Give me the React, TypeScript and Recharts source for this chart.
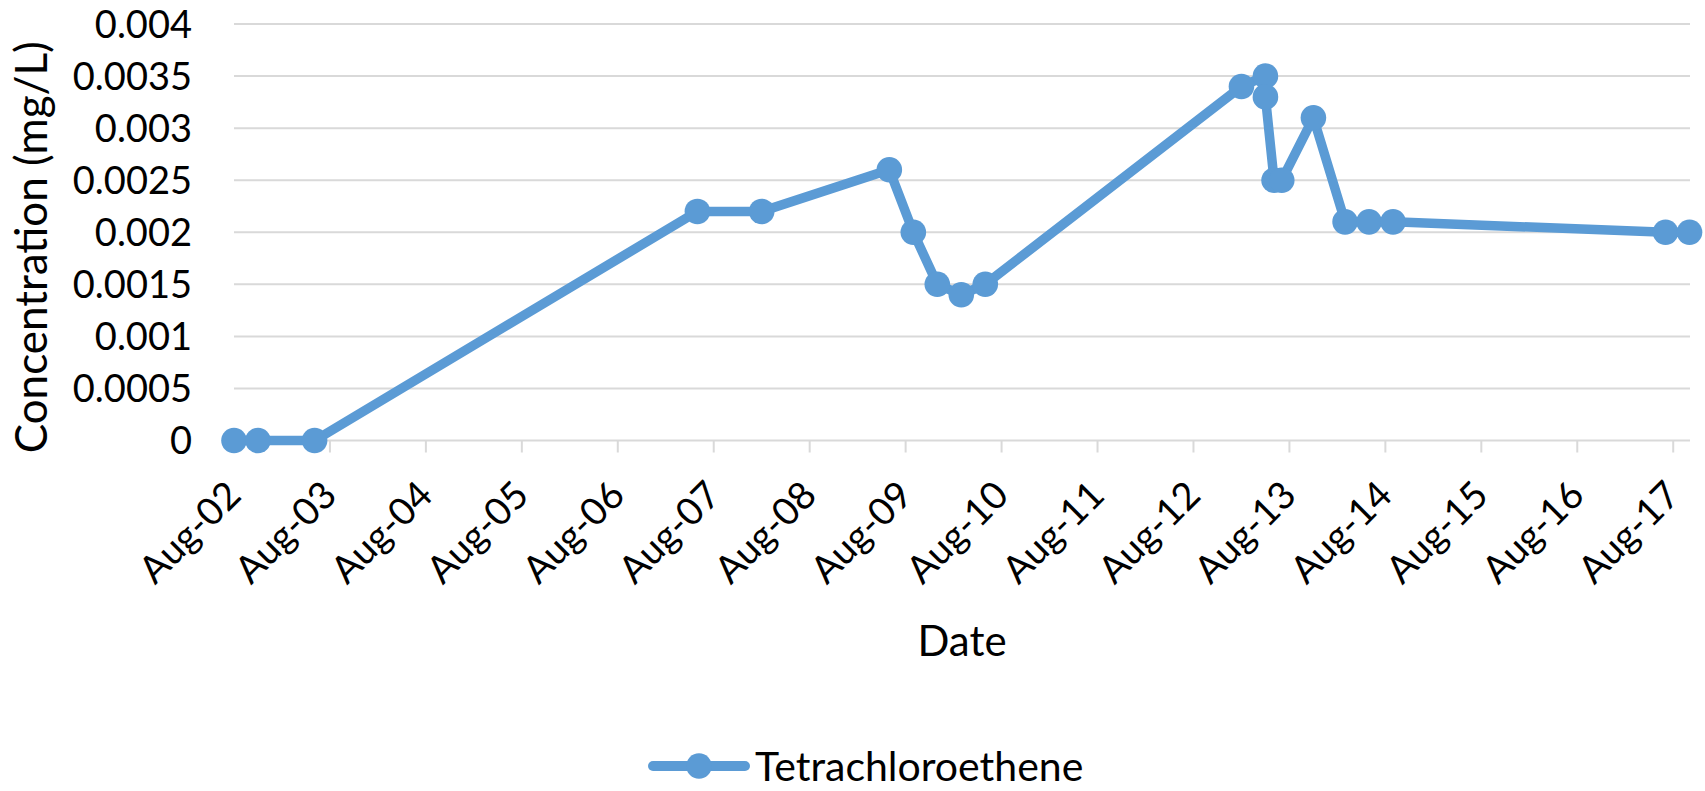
import React from 'react';
import { LineChart, Line, XAxis, YAxis, CartesianGrid, Legend, Label } from 'recharts';

// Sample dates expressed as day-of-August (fractional days)
const sampleDays = [2.0, 2.25, 2.84, 6.83, 7.5, 8.83, 9.08, 9.33, 9.58, 9.83, 12.5, 12.75, 12.75, 12.84, 12.92, 13.25, 13.58, 13.83, 14.08, 16.92, 17.17];
const tetrachloroethene = [0, 0, 0, 0.0022, 0.0022, 0.0026, 0.002, 0.0015, 0.0014, 0.0015, 0.0034, 0.0035, 0.0033, 0.0025, 0.0025, 0.0031, 0.0021, 0.0021, 0.0021, 0.002, 0.002];

const xTicks = [2, 3, 4, 5, 6, 7, 8, 9, 10, 11, 12, 13, 14, 15, 16, 17];
const xTickLabels = ['Aug-02', 'Aug-03', 'Aug-04', 'Aug-05', 'Aug-06', 'Aug-07', 'Aug-08', 'Aug-09', 'Aug-10', 'Aug-11', 'Aug-12', 'Aug-13', 'Aug-14', 'Aug-15', 'Aug-16', 'Aug-17'];
const yTicks = [0, 0.0005, 0.001, 0.0015, 0.002, 0.0025, 0.003, 0.0035, 0.004];
const yTickLabels = ['0', '0.0005', '0.001', '0.0015', '0.002', '0.0025', '0.003', '0.0035', '0.004'];

const data = sampleDays.map((d, i) => ({ day: d, value: tetrachloroethene[i] }));

const FONT = 'Lato, "Open Sans", sans-serif';
const BLUE = '#5B9BD5';
const GRID = '#D9D9D9';
const TICK_SIZE = 12;

const XTick = (props: any) => {
  const { x, y, payload } = props;
  const idx = xTicks.indexOf(payload.value);
  const label = idx >= 0 ? xTickLabels[idx] : '';
  const ax = x + 9;
  const ay = y + 45;
  return (
    <g>
      {idx > 0 && (
        <line x1={x} y1={y - TICK_SIZE} x2={x} y2={y} stroke={GRID} strokeWidth={2} />
      )}
      <text x={ax} y={ay} textAnchor="end" transform={`rotate(-45 ${ax} ${ay})`} fontSize={38} fontFamily={FONT} fill="#000">
        {label}
      </text>
    </g>
  );
};

const YTitle = (props: any) => {
  const vb = props.viewBox || { x: 0, y: 0, width: 0, height: 0 };
  const cx = 47;
  const cy = vb.y + vb.height / 2 + 15;
  return (
    <text x={cx} y={cy} textAnchor="middle" transform={`rotate(-90 ${cx} ${cy})`} fontSize={44} fontFamily={FONT} fill="#000">
      Concentration (mg/L)
    </text>
  );
};

const XTitle = (props: any) => {
  const vb = props.viewBox || { x: 0, y: 0, width: 0, height: 0 };
  const cx = vb.x + vb.width / 2;
  return (
    <text x={cx} y={655.5} textAnchor="middle" fontSize={42} fontFamily={FONT} fill="#000">
      Date
    </text>
  );
};

const LegendContent = () => (
  <div style={{ display: 'flex', alignItems: 'center', height: 46 }}>
    <svg width={102} height={30} style={{ display: 'block' }}>
      <line x1={5} y1={15} x2={97} y2={15} stroke={BLUE} strokeWidth={10} strokeLinecap="round" />
      <circle cx={51} cy={15} r={12.8} fill={BLUE} />
    </svg>
    <span style={{ marginLeft: 5, fontSize: 41, fontFamily: FONT, lineHeight: '46px', color: '#000', whiteSpace: 'nowrap' }}>Tetrachloroethene</span>
  </div>
);

export default function App() {
  return (
    <div style={{ position: 'absolute', left: 0, top: 0, width: 1705, height: 791, background: '#fff' }}>
      <LineChart width={1705} height={791} data={data} margin={{ top: 24, right: 15, bottom: 290.5, left: 0 }}>
        <CartesianGrid horizontal={true} vertical={false} stroke={GRID} strokeWidth={2} />
        <XAxis
          type="number"
          dataKey="day"
          domain={[2, 17.175]}
          ticks={xTicks}
          interval={0}
          height={60}
          tickSize={TICK_SIZE}
          tickMargin={0}
          axisLine={false}
          tickLine={false}
          tick={<XTick />}
        >
          <Label content={<XTitle />} />
        </XAxis>
        <YAxis
          type="number"
          domain={[0, 0.004]}
          ticks={yTicks}
          interval={0}
          width={234}
          tickSize={0}
          tickMargin={42}
          axisLine={false}
          tickLine={false}
          tickFormatter={(v: number) => {
            const i = yTicks.findIndex((t) => Math.abs(t - v) < 1e-9);
            return i >= 0 ? yTickLabels[i] : String(v);
          }}
          tick={{ fontSize: 38, fontFamily: FONT, fill: '#000' }}
        >
          <Label content={<YTitle />} />
        </YAxis>
        <Legend
          layout="horizontal"
          verticalAlign="middle"
          align="center"
          content={<LegendContent />}
          wrapperStyle={{ position: 'absolute', left: 648, top: 743, width: 'auto' }}
        />
        <Line
          type="linear"
          dataKey="value"
          name="Tetrachloroethene"
          stroke={BLUE}
          strokeWidth={9.5}
          dot={{ r: 12.8, fill: BLUE, stroke: BLUE, strokeWidth: 0 }}
          activeDot={false}
          isAnimationActive={false}
        />
      </LineChart>
    </div>
  );
}
